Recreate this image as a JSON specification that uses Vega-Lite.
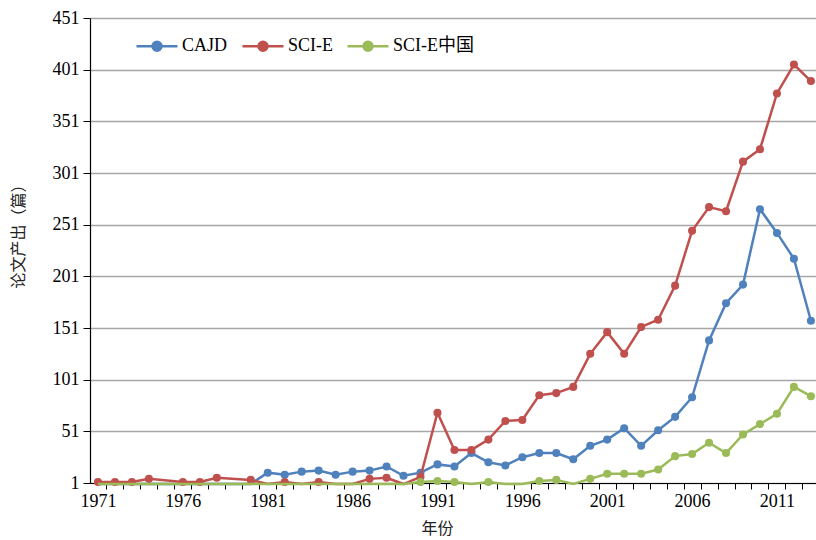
{
  "$schema": "https://vega.github.io/schema/vega-lite/v6.json",
  "width": 726,
  "height": 465,
  "autosize": {"type": "none"},
  "padding": {"left": 90, "top": 18, "right": 0, "bottom": 57},
  "background": "white",
  "config": {"view": {"stroke": null}, "font": "Liberation Serif, Noto Sans CJK SC"},
  "data": {"values": [
    {"year":1971,"series":"CAJD","value":0},{"year":1972,"series":"CAJD","value":0},{"year":1973,"series":"CAJD","value":0},{"year":1974,"series":"CAJD","value":0},{"year":1975,"series":"CAJD","value":0},{"year":1976,"series":"CAJD","value":0},{"year":1977,"series":"CAJD","value":0},{"year":1978,"series":"CAJD","value":0},{"year":1979,"series":"CAJD","value":0},{"year":1980,"series":"CAJD","value":0},
    {"year":1981,"series":"CAJD","value":11},{"year":1982,"series":"CAJD","value":9},{"year":1983,"series":"CAJD","value":12},{"year":1984,"series":"CAJD","value":13},{"year":1985,"series":"CAJD","value":9},{"year":1986,"series":"CAJD","value":12},{"year":1987,"series":"CAJD","value":13},{"year":1988,"series":"CAJD","value":17},{"year":1989,"series":"CAJD","value":8},{"year":1990,"series":"CAJD","value":11},
    {"year":1991,"series":"CAJD","value":19},{"year":1992,"series":"CAJD","value":17},{"year":1993,"series":"CAJD","value":30},{"year":1994,"series":"CAJD","value":21},{"year":1995,"series":"CAJD","value":18},{"year":1996,"series":"CAJD","value":26},{"year":1997,"series":"CAJD","value":30},{"year":1998,"series":"CAJD","value":30},{"year":1999,"series":"CAJD","value":24},{"year":2000,"series":"CAJD","value":37},
    {"year":2001,"series":"CAJD","value":43},{"year":2002,"series":"CAJD","value":54},{"year":2003,"series":"CAJD","value":37},{"year":2004,"series":"CAJD","value":52},{"year":2005,"series":"CAJD","value":65},{"year":2006,"series":"CAJD","value":84},{"year":2007,"series":"CAJD","value":139},{"year":2008,"series":"CAJD","value":175},{"year":2009,"series":"CAJD","value":193},{"year":2010,"series":"CAJD","value":266},
    {"year":2011,"series":"CAJD","value":243},{"year":2012,"series":"CAJD","value":218},{"year":2013,"series":"CAJD","value":158},
    {"year":1971,"series":"SCI-E","value":2},{"year":1972,"series":"SCI-E","value":2},{"year":1973,"series":"SCI-E","value":2},{"year":1974,"series":"SCI-E","value":5},{"year":1976,"series":"SCI-E","value":2},{"year":1977,"series":"SCI-E","value":2},{"year":1978,"series":"SCI-E","value":6},{"year":1980,"series":"SCI-E","value":4},
    {"year":1981,"series":"SCI-E","value":0},{"year":1982,"series":"SCI-E","value":2},{"year":1983,"series":"SCI-E","value":0},{"year":1984,"series":"SCI-E","value":2},{"year":1985,"series":"SCI-E","value":0},{"year":1986,"series":"SCI-E","value":0},{"year":1987,"series":"SCI-E","value":5},{"year":1988,"series":"SCI-E","value":6},{"year":1989,"series":"SCI-E","value":0},{"year":1990,"series":"SCI-E","value":7},
    {"year":1991,"series":"SCI-E","value":69},{"year":1992,"series":"SCI-E","value":33},{"year":1993,"series":"SCI-E","value":33},{"year":1994,"series":"SCI-E","value":43},{"year":1995,"series":"SCI-E","value":61},{"year":1996,"series":"SCI-E","value":62},{"year":1997,"series":"SCI-E","value":86},{"year":1998,"series":"SCI-E","value":88},{"year":1999,"series":"SCI-E","value":94},{"year":2000,"series":"SCI-E","value":126},
    {"year":2001,"series":"SCI-E","value":147},{"year":2002,"series":"SCI-E","value":126},{"year":2003,"series":"SCI-E","value":152},{"year":2004,"series":"SCI-E","value":159},{"year":2005,"series":"SCI-E","value":192},{"year":2006,"series":"SCI-E","value":245},{"year":2007,"series":"SCI-E","value":268},{"year":2008,"series":"SCI-E","value":264},{"year":2009,"series":"SCI-E","value":312},{"year":2010,"series":"SCI-E","value":324},
    {"year":2011,"series":"SCI-E","value":378},{"year":2012,"series":"SCI-E","value":406},{"year":2013,"series":"SCI-E","value":390},
    {"year":1971,"series":"SCI-E中国","value":0},{"year":1972,"series":"SCI-E中国","value":0},{"year":1973,"series":"SCI-E中国","value":0},{"year":1974,"series":"SCI-E中国","value":0},{"year":1975,"series":"SCI-E中国","value":0},{"year":1976,"series":"SCI-E中国","value":0},{"year":1977,"series":"SCI-E中国","value":0},{"year":1978,"series":"SCI-E中国","value":0},{"year":1979,"series":"SCI-E中国","value":0},{"year":1980,"series":"SCI-E中国","value":0},
    {"year":1981,"series":"SCI-E中国","value":0},{"year":1982,"series":"SCI-E中国","value":0},{"year":1983,"series":"SCI-E中国","value":0},{"year":1984,"series":"SCI-E中国","value":0},{"year":1985,"series":"SCI-E中国","value":0},{"year":1986,"series":"SCI-E中国","value":0},{"year":1987,"series":"SCI-E中国","value":0},{"year":1988,"series":"SCI-E中国","value":0},{"year":1989,"series":"SCI-E中国","value":0},{"year":1990,"series":"SCI-E中国","value":2},
    {"year":1991,"series":"SCI-E中国","value":3},{"year":1992,"series":"SCI-E中国","value":2},{"year":1993,"series":"SCI-E中国","value":0},{"year":1994,"series":"SCI-E中国","value":2},{"year":1995,"series":"SCI-E中国","value":0},{"year":1996,"series":"SCI-E中国","value":0},{"year":1997,"series":"SCI-E中国","value":3},{"year":1998,"series":"SCI-E中国","value":4},{"year":1999,"series":"SCI-E中国","value":0},{"year":2000,"series":"SCI-E中国","value":5},
    {"year":2001,"series":"SCI-E中国","value":10},{"year":2002,"series":"SCI-E中国","value":10},{"year":2003,"series":"SCI-E中国","value":10},{"year":2004,"series":"SCI-E中国","value":14},{"year":2005,"series":"SCI-E中国","value":27},{"year":2006,"series":"SCI-E中国","value":29},{"year":2007,"series":"SCI-E中国","value":40},{"year":2008,"series":"SCI-E中国","value":30},{"year":2009,"series":"SCI-E中国","value":48},{"year":2010,"series":"SCI-E中国","value":58},
    {"year":2011,"series":"SCI-E中国","value":68},{"year":2012,"series":"SCI-E中国","value":94},{"year":2013,"series":"SCI-E中国","value":85}
  ]},
  "encoding": {
    "x": {
      "field": "year", "type": "quantitative",
      "scale": {"domain": [1970.53, 2013.3], "nice": false, "zero": false},
      "axis": {
        "values": [1970,1971,1972,1973,1974,1975,1976,1977,1978,1979,1980,1981,1982,1983,1984,1985,1986,1987,1988,1989,1990,1991,1992,1993,1994,1995,1996,1997,1998,1999,2000,2001,2002,2003,2004,2005,2006,2007,2008,2009,2010,2011,2012],
        "labelExpr": "(datum.value - 1971) % 5 === 0 ? datum.value : ''",
        "tickOffset": 8.49, "labelOffset": -8.49,
        "tickSize": 6, "tickColor": "#000", "domainColor": "#000", "domainWidth": 1.2,
        "labelPadding": 3, "labelFontSize": 18, "labelColor": "#000", "labelFont": "Liberation Serif",
        "grid": false, "zindex": 0,
        "title": "年份", "titleFont": "Noto Sans CJK SC", "titleFontSize": 16, "titleFontWeight": "normal", "titleColor": "#222",
        "titleX": 347, "titleY": 45, "titleBaseline": "middle", "titleAlign": "center",
        "labelOverlap": false, "labelFlush": false
      }
    },
    "y": {
      "field": "value", "type": "quantitative",
      "scale": {"domain": [1, 451], "nice": false, "zero": false},
      "axis": {
        "values": [1,51,101,151,201,251,301,351,401,451],
        "tickSize": 7, "tickColor": "#000", "domainColor": "#000", "domainWidth": 1.2,
        "labelPadding": 4, "labelFontSize": 18, "labelColor": "#000", "labelFont": "Liberation Serif",
        "grid": true, "gridColor": "#a6a6a6", "gridWidth": 1.3, "zindex": 0,
        "title": "论文产出（篇）", "titleFont": "Noto Sans CJK SC", "titleFontSize": 16, "titleFontWeight": "normal", "titleColor": "#222",
        "titleX": -72, "titleY": 214, "titleBaseline": "middle", "titleAlign": "center", "titleAngle": -90
      }
    },
    "color": {
      "field": "series", "type": "nominal",
      "scale": {"domain": ["CAJD", "SCI-E", "SCI-E中国"], "range": ["#4F81BD", "#C0504D", "#9BBB59"]},
      "legend": {
        "orient": "none", "legendX": 45, "legendY": 6, "direction": "horizontal", "title": null,
        "symbolType": "M-1,0H1M-0.22,0A0.22,0.22,0,1,1,0.22,0A0.22,0.22,0,1,1,-0.22,0Z",
        "symbolSize": 1681, "symbolStrokeWidth": 2.5,
        "labelFontSize": 18, "labelFont": "Liberation Serif, Noto Sans CJK SC", "labelColor": "#000",
        "columnPadding": 9, "labelOffset": 3,
        "encode": {"symbols": {"update": {"fill": {"scale": "color", "field": "value"}, "stroke": {"scale": "color", "field": "value"}, "opacity": {"value": 1}}}}
      }
    }
  },
  "layer": [
    {"transform": [{"filter": "datum.series === 'CAJD'"}], "mark": {"type": "line", "strokeWidth": 2.5}},
    {"transform": [{"filter": "datum.series === 'CAJD' && datum.value >= 1"}], "mark": {"type": "point", "filled": true, "size": 65, "opacity": 1}},
    {"transform": [{"filter": "datum.series === 'SCI-E'"}], "mark": {"type": "line", "strokeWidth": 2.5}},
    {"transform": [{"filter": "datum.series === 'SCI-E' && datum.value >= 1"}], "mark": {"type": "point", "filled": true, "size": 65, "opacity": 1}},
    {"transform": [{"filter": "datum.series === 'SCI-E中国'"}], "mark": {"type": "line", "strokeWidth": 2.5}},
    {"transform": [{"filter": "datum.series === 'SCI-E中国' && datum.value >= 1"}], "mark": {"type": "point", "filled": true, "size": 65, "opacity": 1}}
  ]
}
